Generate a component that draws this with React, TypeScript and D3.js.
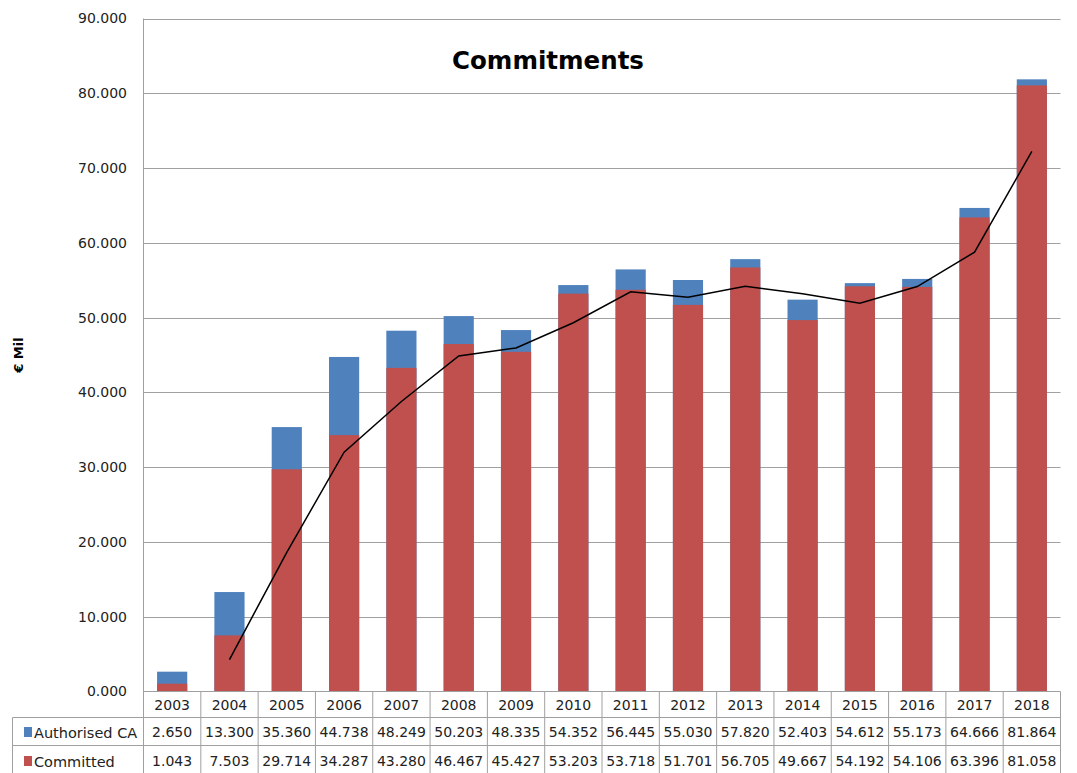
import React from "react";
import * as d3 from "d3";

const years = ["2003","2004","2005","2006","2007","2008","2009","2010","2011","2012","2013","2014","2015","2016","2017","2018"];
const authorisedCA = [2.650,13.300,35.360,44.738,48.249,50.203,48.335,54.352,56.445,55.030,57.820,52.403,54.612,55.173,64.666,81.864];
const committed = [1.043,7.503,29.714,34.287,43.280,46.467,45.427,53.203,53.718,51.701,56.705,49.667,54.192,54.106,63.396,81.058];
// 2-period moving average trendline of Committed (starts 2004)
const trendYears = ["2004","2005","2006","2007","2008","2009","2010","2011","2012","2013","2014","2015","2016","2017","2018"];
const trendValues = [4.273,18.609,32.001,38.784,44.874,45.947,49.315,53.461,52.710,54.203,53.186,51.930,54.149,58.751,72.227];
const yTicks = [0,10,20,30,40,50,60,70,80,90];

const W = 1077, H = 773;
const left = 143.5, right = 1060.5, top = 18.5, bottom = 691.5;
const tableLeft = 12.5;
const rowLines = [691.5, 717.5, 745.5, 773.5];
const BLUE = "#4F81BD", RED = "#C0504D", GRID = "#a0a0a0";
const FONT = "'DejaVu Sans', Verdana, sans-serif";

const fmt = (v: number) => v.toFixed(3);

export default function App() {
  const x = d3.scaleBand<string>().domain(years).range([left, right]).paddingInner(0.9/1.9).paddingOuter(0.45/1.9);
  const xc = d3.scaleBand<string>().domain(years).range([left, right]);
  const y = d3.scaleLinear().domain([0, 90]).range([bottom, top]);
  const line = d3.line<number>().x((_, i) => xc(trendYears[i])! + xc.bandwidth() / 2).y(d => y(d));
  const cw = xc.bandwidth();
  return (
    <svg width={W} height={H} style={{ position: "absolute", left: 0, top: 0, background: "#fff" }} fontFamily={FONT}>
      <rect x={0} y={0} width={W} height={H} fill="#fff" />
      {yTicks.map(t => (
        <g key={t}>
          {t > 0 && <line x1={left} x2={right} y1={Math.round(y(t)) + 0.5} y2={Math.round(y(t)) + 0.5} stroke={GRID} strokeWidth={1} />}
          <text x={127} y={y(t)} dy="0.35em" textAnchor="end" fontSize={14} fill="#222">{fmt(t)}</text>
        </g>
      ))}
      <text x={548} y={60} dy="0.35em" textAnchor="middle" fontSize={24.5} fontWeight="bold" fill="#000">Commitments</text>
      <text transform="translate(18,355) rotate(-90)" dy="0.35em" textAnchor="middle" fontSize={13} fontWeight="bold" fill="#000">€ Mil</text>
      {years.map((yr, i) => (
        <g key={yr}>
          <rect x={x(yr)} y={y(authorisedCA[i])} width={x.bandwidth()} height={y(0) - y(authorisedCA[i])} fill={BLUE} />
          <rect x={x(yr)} y={y(committed[i])} width={x.bandwidth()} height={y(0) - y(committed[i])} fill={RED} />
        </g>
      ))}
      <path d={line(trendValues)!} fill="none" stroke="#000" strokeWidth={1.5} />
      {/* axis line */}
      <line x1={left} x2={left} y1={top} y2={H} stroke={GRID} />
      {/* table */}
      <line x1={left} x2={right} y1={rowLines[0]} y2={rowLines[0]} stroke={GRID} />
      {rowLines.slice(1).map(r => <line key={r} x1={tableLeft} x2={right} y1={r} y2={r} stroke={GRID} />)}
      <line x1={tableLeft} x2={tableLeft} y1={rowLines[1]} y2={H} stroke={GRID} />
      {years.map((yr, i) => (
        <g key={"t" + yr}>
          <line x1={xc(yr)! + cw} x2={xc(yr)! + cw} y1={rowLines[0]} y2={H} stroke={GRID} />
          <text x={xc(yr)! + cw / 2} y={(rowLines[0] + rowLines[1]) / 2 + 1} dy="0.35em" textAnchor="middle" fontSize={14} fill="#222">{yr}</text>
          <text x={xc(yr)! + cw / 2} y={(rowLines[1] + rowLines[2]) / 2 + 1} dy="0.35em" textAnchor="middle" fontSize={14} fill="#222">{fmt(authorisedCA[i])}</text>
          <text x={xc(yr)! + cw / 2} y={(rowLines[2] + rowLines[3]) / 2 + 2} dy="0.35em" textAnchor="middle" fontSize={14} fill="#222">{fmt(committed[i])}</text>
        </g>
      ))}
      <rect x={24} y={727} width={8} height={10} fill={BLUE} />
      <text x={34} y={(rowLines[1] + rowLines[2]) / 2 + 1} dy="0.35em" fontSize={14.5} fill="#222">Authorised CA</text>
      <rect x={24} y={756} width={8} height={10} fill={RED} />
      <text x={34} y={(rowLines[2] + rowLines[3]) / 2 + 2} dy="0.35em" fontSize={14.5} fill="#222">Committed</text>
    </svg>
  );
}
